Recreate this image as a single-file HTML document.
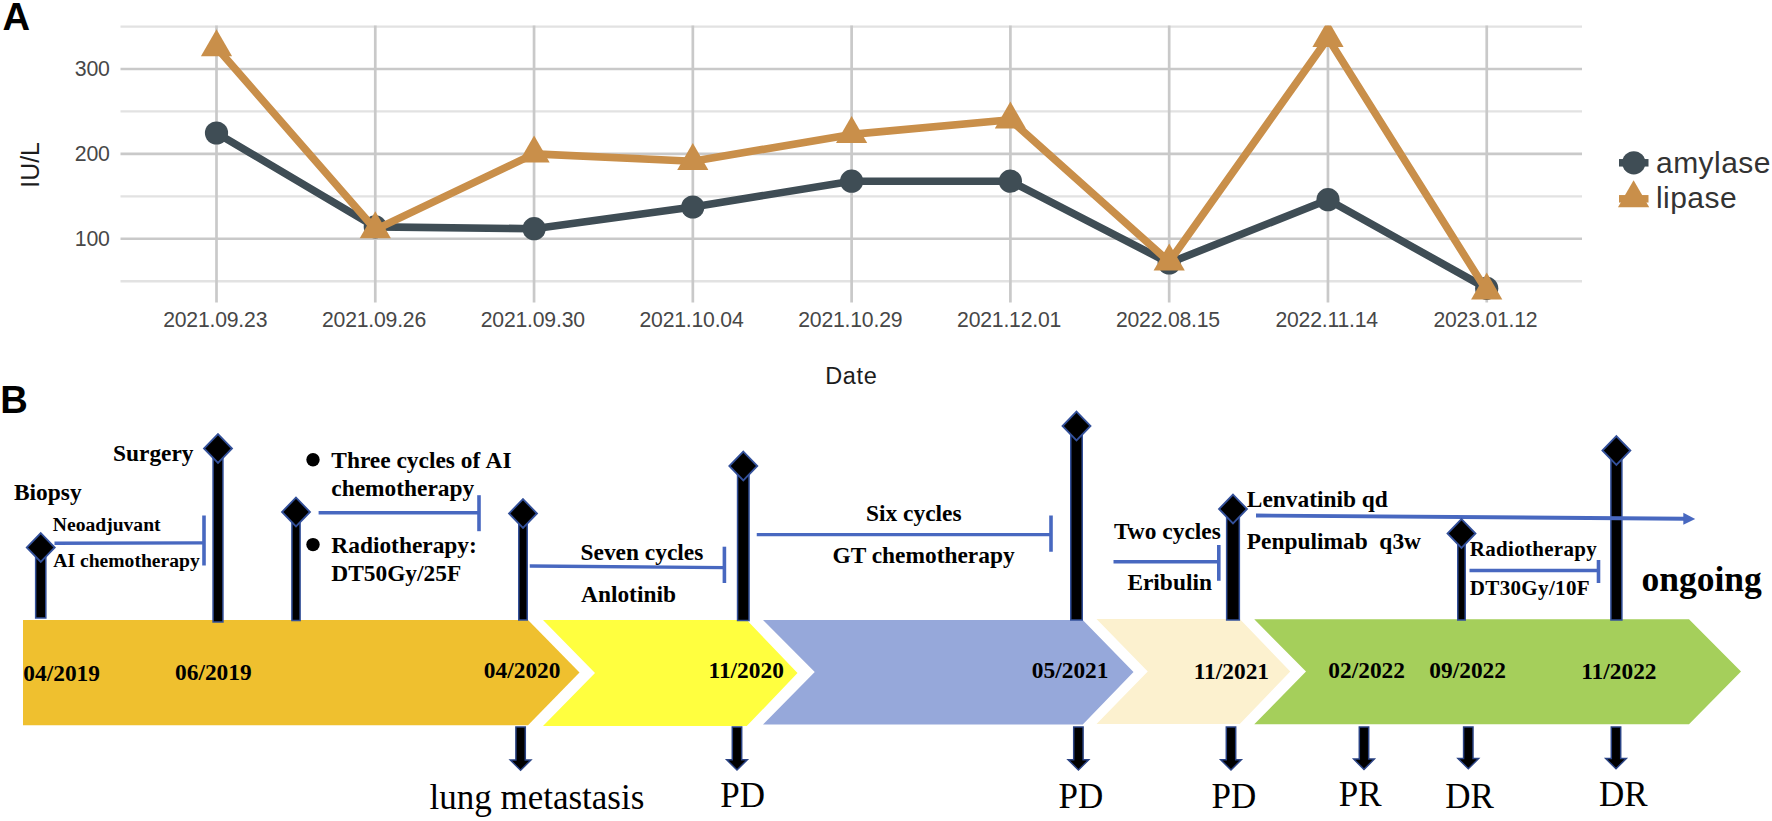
<!DOCTYPE html>
<html lang="en">
<head>
<meta charset="utf-8">
<title>Figure: amylase / lipase trend and treatment timeline</title>
<style>
html,body{margin:0;padding:0;background:#ffffff;}
body{width:1772px;height:821px;overflow:hidden;}
svg{display:block;position:absolute;left:0;top:0;}
</style>
</head>
<body>
<svg width="1772" height="821" viewBox="0 0 1772 821">
<rect x="0" y="0" width="1772" height="821" fill="#ffffff"/>
<line x1="120.5" x2="1582.0" y1="26.55" y2="26.55" stroke="#e2e2e2" stroke-width="2.3"/>
<line x1="120.5" x2="1582.0" y1="111.45" y2="111.45" stroke="#e2e2e2" stroke-width="2.3"/>
<line x1="120.5" x2="1582.0" y1="196.35" y2="196.35" stroke="#e2e2e2" stroke-width="2.3"/>
<line x1="120.5" x2="1582.0" y1="281.25" y2="281.25" stroke="#e2e2e2" stroke-width="2.3"/>
<line x1="120.5" x2="1582.0" y1="69.00" y2="69.00" stroke="#c9c9c9" stroke-width="2.6"/>
<line x1="120.5" x2="1582.0" y1="153.90" y2="153.90" stroke="#c9c9c9" stroke-width="2.6"/>
<line x1="120.5" x2="1582.0" y1="238.80" y2="238.80" stroke="#c9c9c9" stroke-width="2.6"/>
<line x1="216.50" x2="216.50" y1="25.5" y2="302.6" stroke="#c9c9c9" stroke-width="2.7"/>
<line x1="375.28" x2="375.28" y1="25.5" y2="302.6" stroke="#c9c9c9" stroke-width="2.7"/>
<line x1="534.06" x2="534.06" y1="25.5" y2="302.6" stroke="#c9c9c9" stroke-width="2.7"/>
<line x1="692.84" x2="692.84" y1="25.5" y2="302.6" stroke="#c9c9c9" stroke-width="2.7"/>
<line x1="851.62" x2="851.62" y1="25.5" y2="302.6" stroke="#c9c9c9" stroke-width="2.7"/>
<line x1="1010.40" x2="1010.40" y1="25.5" y2="302.6" stroke="#c9c9c9" stroke-width="2.7"/>
<line x1="1169.18" x2="1169.18" y1="25.5" y2="302.6" stroke="#c9c9c9" stroke-width="2.7"/>
<line x1="1327.96" x2="1327.96" y1="25.5" y2="302.6" stroke="#c9c9c9" stroke-width="2.7"/>
<line x1="1486.74" x2="1486.74" y1="25.5" y2="302.6" stroke="#c9c9c9" stroke-width="2.7"/>
<defs><clipPath id="plotclip"><rect x="100" y="25.5" width="1500" height="290"/></clipPath></defs>
<g clip-path="url(#plotclip)">
<polyline points="216.5,133.0 375.3,226.9 534.1,228.7 692.8,207.0 851.6,181.2 1010.4,181.2 1169.2,263.0 1328.0,199.7 1486.7,288.4" fill="none" stroke="#3f4d55" stroke-width="7.6" stroke-linejoin="round" stroke-linecap="round"/>
<circle cx="216.5" cy="133.0" r="11.6" fill="#3f4d55"/>
<circle cx="375.3" cy="226.9" r="11.6" fill="#3f4d55"/>
<circle cx="534.1" cy="228.7" r="11.6" fill="#3f4d55"/>
<circle cx="692.8" cy="207.0" r="11.6" fill="#3f4d55"/>
<circle cx="851.6" cy="181.2" r="11.6" fill="#3f4d55"/>
<circle cx="1010.4" cy="181.2" r="11.6" fill="#3f4d55"/>
<circle cx="1169.2" cy="263.0" r="11.6" fill="#3f4d55"/>
<circle cx="1328.0" cy="199.7" r="11.6" fill="#3f4d55"/>
<circle cx="1486.7" cy="288.4" r="11.6" fill="#3f4d55"/>
<polyline points="216.5,47.5 375.3,229.6 534.1,153.9 692.8,161.2 851.6,134.4 1010.4,119.8 1169.2,261.8 1328.0,38.3 1486.7,290.8" fill="none" stroke="#c98f4a" stroke-width="7.6" stroke-linejoin="round" stroke-linecap="round"/>
<polygon points="216.5,29.2 232.1,56.2 200.9,56.2" fill="#c98f4a"/>
<polygon points="375.3,211.3 390.9,238.3 359.7,238.3" fill="#c98f4a"/>
<polygon points="534.1,135.6 549.7,162.6 518.5,162.6" fill="#c98f4a"/>
<polygon points="692.8,142.9 708.4,169.9 677.2,169.9" fill="#c98f4a"/>
<polygon points="851.6,116.1 867.2,143.1 836.0,143.1" fill="#c98f4a"/>
<polygon points="1010.4,101.5 1026.0,128.5 994.8,128.5" fill="#c98f4a"/>
<polygon points="1169.2,243.5 1184.8,270.5 1153.6,270.5" fill="#c98f4a"/>
<polygon points="1328.0,20.0 1343.6,47.0 1312.4,47.0" fill="#c98f4a"/>
<polygon points="1486.7,272.5 1502.3,299.5 1471.1,299.5" fill="#c98f4a"/>
</g>
<text x="109.6" y="76.0" text-anchor="end" font-family='"Liberation Sans", Arial, sans-serif' font-size="21.3" letter-spacing="-0.25" fill="#474747">300</text>
<text x="109.6" y="160.9" text-anchor="end" font-family='"Liberation Sans", Arial, sans-serif' font-size="21.3" letter-spacing="-0.25" fill="#474747">200</text>
<text x="109.6" y="245.8" text-anchor="end" font-family='"Liberation Sans", Arial, sans-serif' font-size="21.3" letter-spacing="-0.25" fill="#474747">100</text>
<text x="215.2" y="327.0" text-anchor="middle" font-family='"Liberation Sans", Arial, sans-serif' font-size="21.2" letter-spacing="-0.2" fill="#474747">2021.09.23</text>
<text x="374.0" y="327.0" text-anchor="middle" font-family='"Liberation Sans", Arial, sans-serif' font-size="21.2" letter-spacing="-0.2" fill="#474747">2021.09.26</text>
<text x="532.8" y="327.0" text-anchor="middle" font-family='"Liberation Sans", Arial, sans-serif' font-size="21.2" letter-spacing="-0.2" fill="#474747">2021.09.30</text>
<text x="691.5" y="327.0" text-anchor="middle" font-family='"Liberation Sans", Arial, sans-serif' font-size="21.2" letter-spacing="-0.2" fill="#474747">2021.10.04</text>
<text x="850.3" y="327.0" text-anchor="middle" font-family='"Liberation Sans", Arial, sans-serif' font-size="21.2" letter-spacing="-0.2" fill="#474747">2021.10.29</text>
<text x="1009.1" y="327.0" text-anchor="middle" font-family='"Liberation Sans", Arial, sans-serif' font-size="21.2" letter-spacing="-0.2" fill="#474747">2021.12.01</text>
<text x="1167.9" y="327.0" text-anchor="middle" font-family='"Liberation Sans", Arial, sans-serif' font-size="21.2" letter-spacing="-0.2" fill="#474747">2022.08.15</text>
<text x="1326.7" y="327.0" text-anchor="middle" font-family='"Liberation Sans", Arial, sans-serif' font-size="21.2" letter-spacing="-0.2" fill="#474747">2022.11.14</text>
<text x="1485.4" y="327.0" text-anchor="middle" font-family='"Liberation Sans", Arial, sans-serif' font-size="21.2" letter-spacing="-0.2" fill="#474747">2023.01.12</text>
<text x="851.3" y="383.5" text-anchor="middle" font-family='"Liberation Sans", Arial, sans-serif' font-size="23.5" letter-spacing="0.6" fill="#1c1c1c">Date</text>
<text transform="translate(38.9,164.9) rotate(-90) scale(1,1.07)" text-anchor="middle" font-family='"Liberation Sans", Arial, sans-serif' font-size="24.8" fill="#1c1c1c">IU/L</text>
<line x1="1619" x2="1648.5" y1="162.8" y2="162.8" stroke="#3f4d55" stroke-width="7.5"/>
<circle cx="1633.8" cy="162.8" r="11.6" fill="#3f4d55"/>
<line x1="1619" x2="1648.5" y1="198.8" y2="198.8" stroke="#c98f4a" stroke-width="7.5"/>
<polygon points="1633.6,180.2 1649.2,207.2 1618.0,207.2" fill="#c98f4a"/>
<text x="1656" y="172.5" font-family='"Liberation Sans", Arial, sans-serif' font-size="30" letter-spacing="0.45" fill="#333333">amylase</text>
<text x="1656" y="207.8" font-family='"Liberation Sans", Arial, sans-serif' font-size="30" letter-spacing="0.45" fill="#333333">lipase</text>
<text x="2.6" y="29.5" font-family='"Liberation Sans", Arial, sans-serif' font-weight="bold" font-size="38.2" fill="#000">A</text>
<text x="0.3" y="412.9" font-family='"Liberation Sans", Arial, sans-serif' font-weight="bold" font-size="38.2" fill="#000">B</text>
<polygon points="23,620 528,620 579.5,672.6 528,725.2 23,725.2" fill="#efc02f"/>
<polygon points="543,620 746.75,620 797.5,673 746.75,726.1 543,726.1 595,673" fill="#ffff3f"/>
<polygon points="763,620 1082.75,620 1133.5,672 1082.75,724.5 763,724.5 814.75,672" fill="#96a8da"/>
<polygon points="1096.5,619 1239.75,619 1290.25,671.5 1239.75,724 1096.5,724 1147.75,671.5" fill="#fcf1cf"/>
<polygon points="1254.25,619.25 1689,619.25 1741,671.5 1689,724.25 1254.25,724.25 1306,671.5" fill="#a5cf5b"/>
<rect x="35.65" y="547.5" width="10.2" height="70.5" fill="#000" stroke="#33509a" stroke-width="1.5"/>
<rect x="213.05" y="448.5" width="9.9" height="173.5" fill="#000" stroke="#33509a" stroke-width="1.5"/>
<rect x="291.90" y="512.0" width="8.2" height="108.5" fill="#000" stroke="#33509a" stroke-width="1.5"/>
<rect x="518.75" y="513.5" width="8.5" height="106.5" fill="#000" stroke="#33509a" stroke-width="1.5"/>
<rect x="737.55" y="466.0" width="11.5" height="154.5" fill="#000" stroke="#33509a" stroke-width="1.5"/>
<rect x="1070.75" y="426.0" width="11.5" height="194.0" fill="#000" stroke="#33509a" stroke-width="1.5"/>
<rect x="1226.65" y="509.0" width="12.7" height="111.0" fill="#000" stroke="#33509a" stroke-width="1.5"/>
<rect x="1457.75" y="533.5" width="7.5" height="86.5" fill="#000" stroke="#33509a" stroke-width="1.5"/>
<rect x="1610.90" y="450.5" width="11" height="169.5" fill="#000" stroke="#33509a" stroke-width="1.5"/>
<line x1="54.5" x2="204" y1="543.2" y2="542.9" stroke="#4868c0" stroke-width="3.4"/>
<line x1="204" x2="204" y1="515.5" y2="565.5" stroke="#4868c0" stroke-width="3.6"/>
<line x1="318.6" x2="479" y1="512.7" y2="512.7" stroke="#4868c0" stroke-width="3.4"/>
<line x1="479" x2="479" y1="495.2" y2="531.2" stroke="#4868c0" stroke-width="3.6"/>
<line x1="529.75" x2="724.4" y1="566.0" y2="567.6" stroke="#4868c0" stroke-width="3.4"/>
<line x1="724.4" x2="724.4" y1="546.7" y2="583" stroke="#4868c0" stroke-width="3.6"/>
<line x1="756.75" x2="1051" y1="534.6" y2="534.6" stroke="#4868c0" stroke-width="3.4"/>
<line x1="1051" x2="1051" y1="515.5" y2="551.75" stroke="#4868c0" stroke-width="3.6"/>
<line x1="1113.5" x2="1218.8" y1="561.75" y2="561.75" stroke="#4868c0" stroke-width="3.4"/>
<line x1="1218.8" x2="1218.8" y1="545" y2="580.8" stroke="#4868c0" stroke-width="3.6"/>
<line x1="1469.5" x2="1598.5" y1="570.5" y2="570.5" stroke="#4868c0" stroke-width="3.4"/>
<line x1="1598.5" x2="1598.5" y1="560" y2="583" stroke="#4868c0" stroke-width="3.6"/>
<line x1="1256" x2="1685" y1="515.5" y2="518.7" stroke="#4868c0" stroke-width="3.9"/>
<polygon points="1683.3,512.8 1695.2,518.9 1683.3,524.8" fill="#4868c0"/>
<polygon points="40.75,533.1 54.75,547.5 40.75,561.9 26.75,547.5" fill="#000" stroke="#33509a" stroke-width="1.8"/>
<polygon points="218,434.1 232.0,448.5 218,462.9 204.0,448.5" fill="#000" stroke="#33509a" stroke-width="1.8"/>
<polygon points="296,497.6 310.0,512 296,526.4 282.0,512" fill="#000" stroke="#33509a" stroke-width="1.8"/>
<polygon points="523,499.1 537.0,513.5 523,527.9 509.0,513.5" fill="#000" stroke="#33509a" stroke-width="1.8"/>
<polygon points="743.3,451.6 757.3,466 743.3,480.4 729.3,466" fill="#000" stroke="#33509a" stroke-width="1.8"/>
<polygon points="1076.5,411.6 1090.5,426 1076.5,440.4 1062.5,426" fill="#000" stroke="#33509a" stroke-width="1.8"/>
<polygon points="1233,494.6 1247.0,509 1233,523.4 1219.0,509" fill="#000" stroke="#33509a" stroke-width="1.8"/>
<polygon points="1461.5,519.1 1475.5,533.5 1461.5,547.9 1447.5,533.5" fill="#000" stroke="#33509a" stroke-width="1.8"/>
<polygon points="1616.4,436.1 1630.4,450.5 1616.4,464.9 1602.4,450.5" fill="#000" stroke="#33509a" stroke-width="1.8"/>
<polygon points="515.9,727.0 525.3000000000001,727.0 525.3000000000001,760.0 530.9,760.0 520.6,770.3 510.3,760.0 515.9,760.0" fill="#000" stroke="#2a4384" stroke-width="1.5" stroke-linejoin="miter"/>
<polygon points="732.3,727.0 741.7,727.0 741.7,759.7 747.3,759.7 737.0,770.0 726.7,759.7 732.3,759.7" fill="#000" stroke="#2a4384" stroke-width="1.5" stroke-linejoin="miter"/>
<polygon points="1073.7,727.0 1083.1000000000001,727.0 1083.1000000000001,759.7 1088.7,759.7 1078.4,770.0 1068.1000000000001,759.7 1073.7,759.7" fill="#000" stroke="#2a4384" stroke-width="1.5" stroke-linejoin="miter"/>
<polygon points="1226.3,727.0 1235.7,727.0 1235.7,759.7 1241.3,759.7 1231.0,770.0 1220.7,759.7 1226.3,759.7" fill="#000" stroke="#2a4384" stroke-width="1.5" stroke-linejoin="miter"/>
<polygon points="1359.3,727.0 1368.7,727.0 1368.7,759.1 1374.3,759.1 1364.0,769.4 1353.7,759.1 1359.3,759.1" fill="#000" stroke="#2a4384" stroke-width="1.5" stroke-linejoin="miter"/>
<polygon points="1463.6,727.0 1473.0,727.0 1473.0,758.5 1478.6,758.5 1468.3,768.8 1458.0,758.5 1463.6,758.5" fill="#000" stroke="#2a4384" stroke-width="1.5" stroke-linejoin="miter"/>
<polygon points="1611.3,727.0 1620.7,727.0 1620.7,758.5 1626.3,758.5 1616.0,768.8 1605.7,758.5 1611.3,758.5" fill="#000" stroke="#2a4384" stroke-width="1.5" stroke-linejoin="miter"/>
<circle cx="313" cy="459.8" r="6.7" fill="#000"/>
<circle cx="313" cy="544.6" r="6.7" fill="#000"/>
<text x="14" y="500" xml:space="preserve" font-family='"Liberation Serif", "Times New Roman", serif' font-weight="bold" font-size="23.4" fill="#000">Biopsy</text>
<text x="113" y="461" xml:space="preserve" font-family='"Liberation Serif", "Times New Roman", serif' font-weight="bold" font-size="23.4" fill="#000">Surgery</text>
<text x="52.8" y="531" xml:space="preserve" font-family='"Liberation Serif", "Times New Roman", serif' font-weight="bold" font-size="19.6" fill="#000">Neoadjuvant</text>
<text x="53.3" y="567" xml:space="preserve" font-family='"Liberation Serif", "Times New Roman", serif' font-weight="bold" font-size="19.6" fill="#000">AI chemotherapy</text>
<text x="331.3" y="468.3" xml:space="preserve" font-family='"Liberation Serif", "Times New Roman", serif' font-weight="bold" font-size="23.4" fill="#000">Three cycles of<tspan x="485.5">AI</tspan></text>
<text x="331.3" y="496.1" xml:space="preserve" font-family='"Liberation Serif", "Times New Roman", serif' font-weight="bold" font-size="23.4" fill="#000">chemotherapy</text>
<text x="331.3" y="552.9" xml:space="preserve" font-family='"Liberation Serif", "Times New Roman", serif' font-weight="bold" font-size="23.4" fill="#000">Radiotherapy:</text>
<text x="331.3" y="581.1" xml:space="preserve" font-family='"Liberation Serif", "Times New Roman", serif' font-weight="bold" font-size="23.4" fill="#000">DT50Gy/25F</text>
<text x="580.5" y="559.7" xml:space="preserve" font-family='"Liberation Serif", "Times New Roman", serif' font-weight="bold" font-size="23.4" fill="#000">Seven cycles</text>
<text x="581" y="601.8" xml:space="preserve" font-family='"Liberation Serif", "Times New Roman", serif' font-weight="bold" font-size="23.4" fill="#000">Anlotinib</text>
<text x="866" y="521" xml:space="preserve" font-family='"Liberation Serif", "Times New Roman", serif' font-weight="bold" font-size="23.4" fill="#000">Six cycles</text>
<text x="832.5" y="563" xml:space="preserve" font-family='"Liberation Serif", "Times New Roman", serif' font-weight="bold" font-size="23.4" fill="#000">GT chemotherapy</text>
<text x="1114.0" y="538.75" xml:space="preserve" font-family='"Liberation Serif", "Times New Roman", serif' font-weight="bold" font-size="23.4" fill="#000">Two cycles</text>
<text x="1127.4" y="590" xml:space="preserve" font-family='"Liberation Serif", "Times New Roman", serif' font-weight="bold" font-size="23.4" fill="#000">Eribulin</text>
<text x="1246.8" y="507" xml:space="preserve" font-family='"Liberation Serif", "Times New Roman", serif' font-weight="bold" font-size="23.4" fill="#000">Lenvatinib qd</text>
<text x="1246.8" y="549" xml:space="preserve" font-family='"Liberation Serif", "Times New Roman", serif' font-weight="bold" font-size="23.4" fill="#000">Penpulimab  q3w</text>
<text x="1469.8" y="556.25" xml:space="preserve" font-family='"Liberation Serif", "Times New Roman", serif' font-weight="bold" font-size="21" letter-spacing="0.3" fill="#000">Radiotherapy</text>
<text x="1469.8" y="594.5" xml:space="preserve" font-family='"Liberation Serif", "Times New Roman", serif' font-weight="bold" font-size="21" letter-spacing="0.35" fill="#000">DT30Gy/10F</text>
<text x="1641.4" y="590.9" xml:space="preserve" font-family='"Liberation Serif", "Times New Roman", serif' font-weight="bold" font-size="35.5" fill="#000">ongoing</text>
<text x="23.3" y="681" xml:space="preserve" font-family='"Liberation Serif", "Times New Roman", serif' font-weight="bold" font-size="23.4" fill="#000">04/2019</text>
<text x="175" y="680" xml:space="preserve" font-family='"Liberation Serif", "Times New Roman", serif' font-weight="bold" font-size="23.4" fill="#000">06/2019</text>
<text x="483.8" y="678" xml:space="preserve" font-family='"Liberation Serif", "Times New Roman", serif' font-weight="bold" font-size="23.4" fill="#000">04/2020</text>
<text x="708.5" y="678" xml:space="preserve" font-family='"Liberation Serif", "Times New Roman", serif' font-weight="bold" font-size="23.4" fill="#000">11/2020</text>
<text x="1031.8" y="678" xml:space="preserve" font-family='"Liberation Serif", "Times New Roman", serif' font-weight="bold" font-size="23.4" fill="#000">05/2021</text>
<text x="1193.7" y="679" xml:space="preserve" font-family='"Liberation Serif", "Times New Roman", serif' font-weight="bold" font-size="23.4" fill="#000">11/2021</text>
<text x="1328.3" y="678" xml:space="preserve" font-family='"Liberation Serif", "Times New Roman", serif' font-weight="bold" font-size="23.4" fill="#000">02/2022</text>
<text x="1429.3" y="678" xml:space="preserve" font-family='"Liberation Serif", "Times New Roman", serif' font-weight="bold" font-size="23.4" fill="#000">09/2022</text>
<text x="1581.2" y="679.25" xml:space="preserve" font-family='"Liberation Serif", "Times New Roman", serif' font-weight="bold" font-size="23.4" fill="#000">11/2022</text>
<text x="429.5" y="809" xml:space="preserve" font-family='"Liberation Serif", "Times New Roman", serif' font-weight="normal" font-size="35" fill="#000">lung metastasis</text>
<text x="720.3" y="807.3" xml:space="preserve" font-family='"Liberation Serif", "Times New Roman", serif' font-weight="normal" font-size="35" fill="#000">PD</text>
<text x="1058.6" y="808.3" xml:space="preserve" font-family='"Liberation Serif", "Times New Roman", serif' font-weight="normal" font-size="35" fill="#000">PD</text>
<text x="1211.6" y="808.3" xml:space="preserve" font-family='"Liberation Serif", "Times New Roman", serif' font-weight="normal" font-size="35" fill="#000">PD</text>
<text x="1338.8" y="806.3" xml:space="preserve" font-family='"Liberation Serif", "Times New Roman", serif' font-weight="normal" font-size="35" fill="#000">PR</text>
<text x="1445.3" y="807.8" xml:space="preserve" font-family='"Liberation Serif", "Times New Roman", serif' font-weight="normal" font-size="35" fill="#000">DR</text>
<text x="1599.1" y="806.3" xml:space="preserve" font-family='"Liberation Serif", "Times New Roman", serif' font-weight="normal" font-size="35" fill="#000">DR</text>
</svg>
</body>
</html>
